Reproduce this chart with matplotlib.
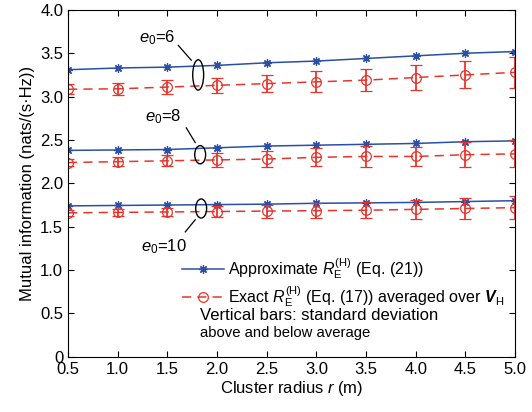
import numpy as np
import matplotlib.pyplot as plt
from matplotlib.patches import Ellipse
from matplotlib.lines import Line2D

plt.rcParams['font.family'] = ['Liberation Sans', 'DejaVu Sans']
plt.rcParams['mathtext.fontset'] = 'custom'
plt.rcParams['mathtext.rm'] = 'Liberation Sans'
plt.rcParams['mathtext.it'] = 'Liberation Sans:italic'
plt.rcParams['mathtext.bf'] = 'Liberation Sans:bold'
plt.rcParams['mathtext.bfit'] = 'Liberation Sans:italic:bold'

# cluster radius r (m)
radius = [0.5, 1.0, 1.5, 2.0, 2.5, 3.0, 3.5, 4.0, 4.5, 5.0]

# approximate rate, Eq. (21)
approx_e6 = [3.31, 3.33, 3.34, 3.36, 3.39, 3.41, 3.44, 3.47, 3.50, 3.52]
approx_e8 = [2.38, 2.385, 2.39, 2.41, 2.43, 2.44, 2.45, 2.46, 2.48, 2.49]
approx_e10 = [1.74, 1.745, 1.75, 1.755, 1.76, 1.77, 1.775, 1.78, 1.79, 1.80]

# exact rate, Eq. (17), averaged over V_H, with standard deviation
exact_e6 = [3.085, 3.09, 3.11, 3.13, 3.15, 3.17, 3.19, 3.22, 3.25, 3.28]
std_e6 = [0.06, 0.07, 0.08, 0.09, 0.10, 0.12, 0.13, 0.14, 0.155, 0.175]
exact_e8 = [2.24, 2.25, 2.26, 2.27, 2.28, 2.30, 2.31, 2.31, 2.33, 2.34]
std_e8 = [0.04, 0.05, 0.065, 0.08, 0.09, 0.105, 0.12, 0.11, 0.145, 0.155]
exact_e10 = [1.66, 1.665, 1.67, 1.675, 1.68, 1.685, 1.69, 1.70, 1.71, 1.72]
std_e10 = [0.035, 0.04, 0.05, 0.065, 0.075, 0.085, 0.095, 0.11, 0.12, 0.135]

blue = '#2b4ea6'
red = '#e8352c'
asterisk = (8, 2, 0)
dash = (0, (6, 4))

fig = plt.figure(figsize=(5.32, 4.12), dpi=100)
ax = fig.add_axes([0.128, 0.134, 0.840, 0.842])

groups = [(approx_e6, exact_e6, std_e6),
          (approx_e8, exact_e8, std_e8),
          (approx_e10, exact_e10, std_e10)]
for ap, ex, sd in groups:
    ax.plot(radius, ap, color=blue, lw=1.1, marker=asterisk, ms=6, mew=0.9)
    ax.errorbar(radius, ex, yerr=sd, color=red, lw=1.1, ls=dash, marker='o',
                ms=7, mfc='none', mew=0.9, elinewidth=1.3, capsize=4, capthick=1.3)

# ellipses grouping each pair of curves, with their labels
for cx, cy, h in [(1.81, 3.25, 0.35), (1.83, 2.33, 0.21), (1.84, 1.71, 0.22)]:
    ax.add_patch(Ellipse((cx, cy), 0.11, h, fill=False, color='k', lw=1.0, zorder=5))

ax.plot([1.61, 1.74], [3.59, 3.42], color='k', lw=0.9)
ax.plot([1.69, 1.78], [2.64, 2.47], color='k', lw=0.9)
ax.plot([1.68, 1.78], [1.44, 1.58], color='k', lw=0.9)
ax.text(1.40, 3.68, '$e_0$=6', fontsize=12, ha='center', va='center')
ax.text(1.46, 2.77, '$e_0$=8', fontsize=12, ha='center', va='center')
ax.text(1.46, 1.27, '$e_0$=10', fontsize=12, ha='center', va='center')

ax.set_xlim(0.5, 5.0)
ax.set_ylim(0, 4.0)
ax.set_xticks(radius)
ax.set_xticklabels([f'{v:.1f}' for v in radius])
yt = np.arange(0, 4.01, 0.5)
ax.set_yticks(yt)
ax.set_yticklabels(['0'] + [f'{v:.1f}' for v in yt[1:]])
ax.tick_params(direction='in', top=True, right=True, labelsize=12, length=4)
ax.set_xlabel('Cluster radius $r$ (m)', fontsize=12, labelpad=2)
ax.set_ylabel('Mutual information (nats/(s·Hz))', fontsize=12, labelpad=4)
for s in ax.spines.values():
    s.set_linewidth(0.8)

handles = [
    Line2D([], [], color=blue, lw=1.1, marker=asterisk, ms=6, mew=0.9),
    Line2D([], [], color=red, lw=1.1, ls=dash, marker='o', ms=7, mfc='none', mew=0.9),
]
labels = [
    'Approximate $R_{\\mathrm{E}}^{(\\mathrm{H})}$ (Eq. (21))',
    'Exact $R_{\\mathrm{E}}^{(\\mathrm{H})}$ (Eq. (17)) averaged over $\\mathbfit{V}_{\\mathrm{H}}$',
]
ax.legend(handles, labels, loc='upper left', bbox_to_anchor=(0.255, 0.29), frameon=False,
          fontsize=11.5, handlelength=2.6, handletextpad=0.3, labelspacing=0.2,
          borderaxespad=0.0, borderpad=0.0)
ax.text(1.83, 0.48, 'Vertical bars: standard deviation', fontsize=12, va='center')
ax.text(1.83, 0.27, 'above and below average', fontsize=10.7, va='center')

fig.savefig('out.png', dpi=100)
